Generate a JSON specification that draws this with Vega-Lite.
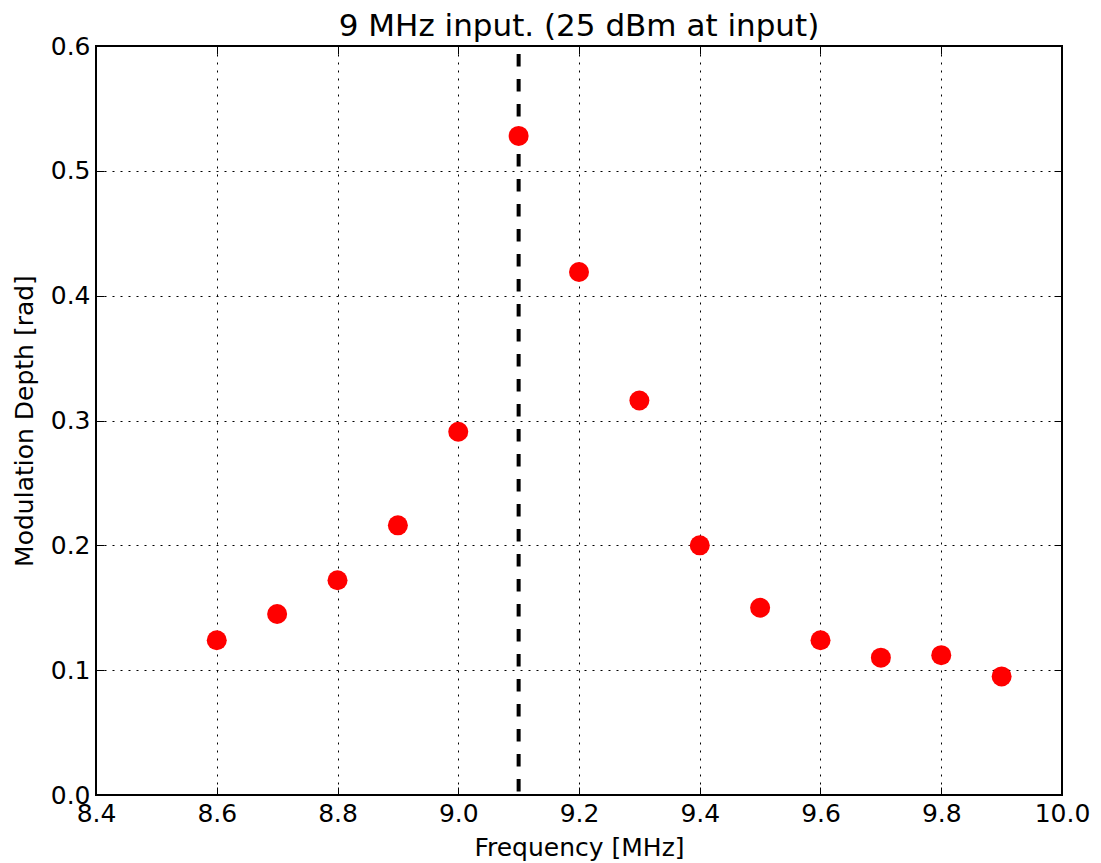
{
  "$schema": "https://vega.github.io/schema/vega-lite/v6.json",
  "width": 966,
  "height": 749,
  "autosize": {"type": "none"},
  "padding": {"left": 96, "top": 46, "right": 39, "bottom": 68},
  "background": "white",
  "title": {"text": "9 MHz input. (25 dBm at input)", "fontSize": 31, "font": "DejaVu Sans", "fontWeight": "normal", "color": "black", "offset": -9},
  "config": {
    "view": {"stroke": "black", "strokeWidth": 2},
    "axis": {
      "domain": false,
      "gridColor": "black",
      "gridDash": [2, 6],
      "gridWidth": 1,
      "gridOpacity": 1,
      "tickColor": "black",
      "tickWidth": 1,
      "tickSize": -8,
      "labelFlush": false,
      "labelOverlap": false,
      "labelFont": "DejaVu Sans",
      "labelFontSize": 25,
      "labelColor": "black",
      "titleFont": "DejaVu Sans",
      "titleFontSize": 25,
      "titleFontWeight": "normal",
      "titleColor": "black"
    }
  },
  "datasets": {
    "pts": [
      {"f": 8.6, "depth": 0.124},
      {"f": 8.7, "depth": 0.145},
      {"f": 8.8, "depth": 0.172},
      {"f": 8.9, "depth": 0.216},
      {"f": 9.0, "depth": 0.291},
      {"f": 9.1, "depth": 0.528},
      {"f": 9.2, "depth": 0.419},
      {"f": 9.3, "depth": 0.316},
      {"f": 9.4, "depth": 0.200},
      {"f": 9.5, "depth": 0.150},
      {"f": 9.6, "depth": 0.124},
      {"f": 9.7, "depth": 0.110},
      {"f": 9.8, "depth": 0.112},
      {"f": 9.9, "depth": 0.095}
    ],
    "marker": [{"f": 9.1}]
  },
  "layer": [
    {
      "data": {"name": "pts"},
      "mark": {"type": "point", "opacity": 0},
      "encoding": {
        "x": {
          "field": "f", "type": "quantitative",
          "scale": {"domain": [8.4, 10.0], "nice": false, "zero": false},
          "axis": {"orient": "top", "title": null, "labels": false, "grid": false, "values": [8.4, 8.6, 8.8, 9.0, 9.2, 9.4, 9.6, 9.8, 10.0]}
        },
        "y": {
          "field": "depth", "type": "quantitative",
          "scale": {"domain": [0, 0.6], "nice": false},
          "axis": {"orient": "right", "title": null, "labels": false, "grid": false, "values": [0, 0.1, 0.2, 0.3, 0.4, 0.5, 0.6]}
        }
      }
    },
    {
      "data": {"name": "marker"},
      "mark": {"type": "rule", "color": "black", "strokeWidth": 4, "strokeDash": [12.5, 12.5], "strokeDashOffset": 17},
      "encoding": {
        "x": {"field": "f", "type": "quantitative", "scale": {"domain": [8.4, 10.0], "nice": false, "zero": false}, "axis": null}
      }
    },
    {
      "data": {"name": "pts"},
      "mark": {"type": "point", "filled": true, "shape": "circle", "color": "red", "opacity": 1, "size": 400},
      "encoding": {
        "x": {
          "field": "f", "type": "quantitative",
          "scale": {"domain": [8.4, 10.0], "nice": false, "zero": false},
          "axis": {"orient": "bottom", "grid": true, "title": "Frequency [MHz]", "values": [8.4, 8.6, 8.8, 9.0, 9.2, 9.4, 9.6, 9.8, 10.0], "format": ".1f", "labelPadding": 14, "titlePadding": 9}
        },
        "y": {
          "field": "depth", "type": "quantitative",
          "scale": {"domain": [0, 0.6], "nice": false},
          "axis": {"orient": "left", "grid": true, "title": "Modulation Depth [rad]", "values": [0, 0.1, 0.2, 0.3, 0.4, 0.5, 0.6], "format": ".1f", "labelPadding": 14, "titlePadding": 13}
        }
      }
    }
  ],
  "resolve": {"axis": {"x": "independent", "y": "independent"}}
}
